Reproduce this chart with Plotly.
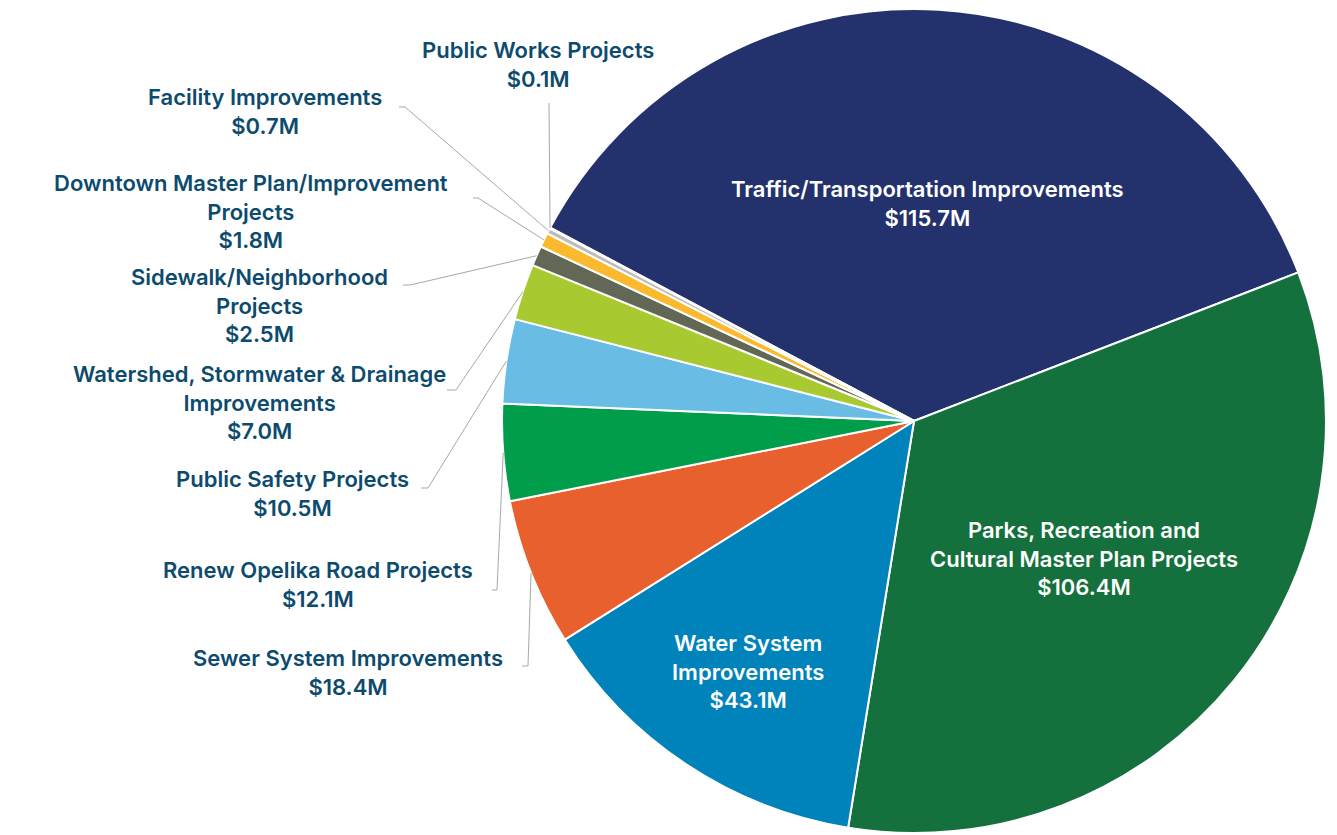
import math
import plotly.graph_objects as go

# ---------------- data ----------------
categories = [
    "Traffic/Transportation Improvements",
    "Parks, Recreation and Cultural Master Plan Projects",
    "Water System Improvements",
    "Sewer System Improvements",
    "Renew Opelika Road Projects",
    "Public Safety Projects",
    "Watershed, Stormwater & Drainage Improvements",
    "Sidewalk/Neighborhood Projects",
    "Downtown Master Plan/Improvement Projects",
    "Facility Improvements",
    "Public Works Projects",
]
values = [115.7, 106.4, 43.1, 18.4, 12.1, 10.5, 7.0, 2.5, 1.8, 0.7, 0.1]
display_names = [
    "Traffic/Transportation Improvements",
    "Parks, Recreation and<br>Cultural Master Plan Projects",
    "Water System<br>Improvements",
    "Sewer System Improvements",
    "Renew Opelika Road Projects",
    "Public Safety Projects",
    "Watershed, Stormwater & Drainage<br>Improvements",
    "Sidewalk/Neighborhood<br>Projects",
    "Downtown Master Plan/Improvement<br>Projects",
    "Facility Improvements",
    "Public Works Projects",
]

# ---------------- style / layout ----------------
W, H = 1337, 835
OFF = 8                              # page body margin
colors = ["#23316C", "#14703C", "#0082BA", "#E9602F", "#009E4B", "#69BCE4",
          "#A8C92F", "#636856", "#FBBA2E", "#BDBDBD", "#9A9A9A"]
ROTATION = -62.0
CX, CY, R = 914, 421, 412            # pie centre / radius in screen px
label_color = "#0D4B6E"
FONT = "Inter"
FS = 22

inside = {0: 0.53, 1: 0.53, 2: 0.73}
outside = {
    10: dict(pos=(538, 64), path=[(549, 103)]),
    9: dict(pos=(265, 112), path=[(399, 107), (405, 107)]),
    8: dict(pos=(251, 211), path=[(473, 198), (478, 198)]),
    7: dict(pos=(259, 305), path=[(403, 285), (410, 285)]),
    6: dict(pos=(259, 402), path=[(447, 390), (456, 390)]),
    5: dict(pos=(292, 493), path=[(421, 488), (428, 488)]),
    4: dict(pos=(318, 584), path=[(492, 590), (497, 590)]),
    3: dict(pos=(348, 672), path=[(522, 666), (528, 666)]),
}

def px(x, y):
    return (x - OFF) / W, 1 - (y - OFF) / H

x0, y0 = px(CX - R, CY + R)
x1, y1 = px(CX + R, CY - R)

fig = go.Figure(go.Pie(
    labels=categories,
    values=values,
    sort=False,
    direction="clockwise",
    rotation=ROTATION,
    marker=dict(colors=colors, line=dict(color="white", width=2)),
    textinfo="none",
    hoverinfo="label+value",
    showlegend=False,
    domain=dict(x=[x0, x1], y=[y0, y1]),
))

total = sum(values)
mid_angles = []
acc = ROTATION
for v in values:
    span = v / total * 360.0
    mid_angles.append(acc + span / 2)
    acc += span

def slice_point(i, frac):
    a = math.radians(mid_angles[i])
    return CX + frac * R * math.sin(a), CY - frac * R * math.cos(a)

annotations = []
shapes = []
for i, name in enumerate(display_names):
    txt = f"{name}<br>${values[i]:.1f}M"
    if i in inside:
        x, y = slice_point(i, inside[i])
        col = "white"
    else:
        x, y = outside[i]["pos"]
        col = label_color
        pts = outside[i]["path"] + [slice_point(i, 1.0)]
        d = ""
        for k, (pxx, pyy) in enumerate(pts):
            u, w = px(pxx, pyy)
            d += ("M" if k == 0 else " L") + f"{u:.5f},{w:.5f}"
        shapes.append(dict(type="path", path=d, xref="paper", yref="paper",
                           line=dict(color="#A8A8A8", width=1)))
    u, w = px(x, y)
    annotations.append(dict(
        x=u, y=w, xref="paper", yref="paper", text=txt, showarrow=False,
        xanchor="center", yanchor="middle", align="center",
        font=dict(family=FONT, size=FS, color=col, weight=600),
    ))

fig.update_layout(
    width=W, height=H, margin=dict(l=0, r=0, t=0, b=0),
    paper_bgcolor="white", plot_bgcolor="white",
    annotations=annotations, shapes=shapes,
)
fig.write_html("out.html")
